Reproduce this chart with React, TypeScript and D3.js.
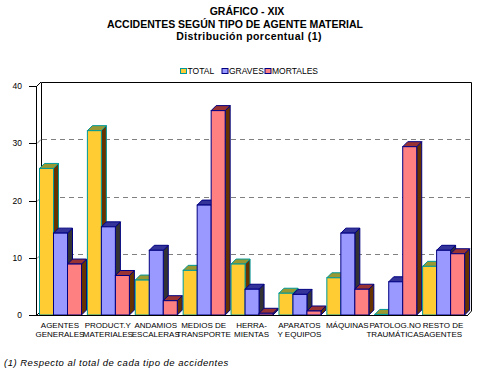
import React from "react";
import * as d3 from "d3";

const categories = [
  ["AGENTES", "GENERALES"],
  ["PRODUCT.Y", "MATERIALES"],
  ["ANDAMIOS", "ESCALERAS"],
  ["MEDIOS DE", "TRANSPORTE"],
  ["HERRA-", "MIENTAS"],
  ["APARATOS", "Y EQUIPOS"],
  ["MÁQUINAS", ""],
  ["PATOLOG.NO", "TRAUMÁTICAS"],
  ["RESTO DE", "AGENTES"],
];
const seriesNames = ["TOTAL", "GRAVES", "MORTALES"];
const totalValues = [25.6, 32.2, 6.1, 7.8, 8.9, 3.8, 6.5, 0.1, 8.5];
const gravesValues = [14.3, 15.4, 11.3, 19.2, 4.5, 3.6, 14.3, 5.8, 11.3];
const mortalesValues = [8.9, 6.9, 2.5, 35.7, 0.3, 0.7, 4.5, 29.4, 10.7];
const yTicks = [0, 10, 20, 30, 40];
const gridTicks = [10, 20, 30];

const seriesValues = [totalValues, gravesValues, mortalesValues];
const seriesStyle = [
  { front: "#FFCC33", top: "#999933", side: "#663300", stroke: "#009999" },
  { front: "#9999FF", top: "#333399", side: "#333333", stroke: "#000080" },
  { front: "#FF8080", top: "#993333", side: "#663300", stroke: "#000080" },
];

const FONT = "'Liberation Sans', Arial, sans-serif";

export default function App() {
  const W = 478, H = 372;
  const x0 = 37, x1 = 468, yBottom = 315, yTop = 86;
  const wdx = 4, wdy = -4; // wall depth
  const bdx = 5, bdy = -5; // bar depth
  const keys = categories.map((c) => c.join(" "));
  const x = d3.scaleBand<string>().domain(keys).range([x0, x1]).paddingInner(0).paddingOuter(0);
  const y = d3.scaleLinear().domain([0, 40]).range([yBottom, yTop]);
  const barW = 14;
  const barOff = 2.5;

  const bars: JSX.Element[] = [];
  keys.forEach((k, i) => {
    seriesValues.forEach((vals, j) => {
      const v = vals[i];
      const st = seriesStyle[j];
      const bx = (x(k) as number) + barOff + j * barW;
      const by = y(v);
      const bw = barW;
      const fb = yBottom;
      const top = `M${bx},${by} L${bx + bdx},${by + bdy} L${bx + bw + bdx},${by + bdy} L${bx + bw},${by} Z`;
      const side = `M${bx + bw},${by} L${bx + bw + bdx},${by + bdy} L${bx + bw + bdx},${fb + bdy} L${bx + bw},${fb} Z`;
      bars.push(
        <g key={`b${i}-${j}`}>
          <path d={side} fill={st.side} stroke={st.stroke} strokeWidth={1} strokeLinejoin="miter" />
          <path d={top} fill={st.top} stroke={st.stroke} strokeWidth={1} />
          {fb - by > 0.5 && (
            <rect x={bx} y={by} width={bw} height={fb - by} fill={st.front} stroke={st.stroke} strokeWidth={1} />
          )}
        </g>
      );
    });
  });

  const legendItems = [
    { sx: 180, tx: 187.5 },
    { sx: 221.5, tx: 229 },
    { sx: 264.5, tx: 272 },
  ];

  return (
    <svg width={W} height={H} style={{ display: "block", position: "absolute", left: 0, top: 0, background: "#fff" }} fontFamily={FONT}>
      <rect x={0} y={0} width={W} height={H} fill="#fff" />
      {/* Titles */}
      <text x={247} y={15} textAnchor="middle" fontSize={10.5} fontWeight="bold">GRÁFICO - XIX</text>
      <text x={235} y={28} textAnchor="middle" fontSize={10.5} fontWeight="bold">ACCIDENTES SEGÚN TIPO DE AGENTE MATERIAL</text>
      <text x={249} y={39.5} textAnchor="middle" fontSize={10.5} fontWeight="bold" letterSpacing={0.45}>Distribución porcentual (1)</text>

      {/* Legend */}
      {seriesNames.map((n, j) => (
        <g key={n}>
          <rect x={legendItems[j].sx + 0.5} y={68.5} width={6} height={5} fill={seriesStyle[j].front} stroke={seriesStyle[j].stroke} strokeWidth={1} />
          <text x={legendItems[j].tx} y={74} fontSize={8.5}>{n}</text>
        </g>
      ))}

      {/* Walls */}
      <path
        d={`M${x0 + wdx + 0.5},${yBottom + wdy} L${x0 + wdx + 0.5},${yTop + wdy + 0.5} L${x1 + wdx - 0.5},${yTop + wdy + 0.5} L${x1 + wdx - 0.5},${yBottom + wdy} L${x1},${yBottom}`}
        fill="none" stroke="#000" strokeWidth={1}
      />
      <line x1={x0} y1={y(40)} x2={x0 + wdx} y2={y(40) + wdy} stroke="#000" strokeWidth={1} />
      <line x1={x0} y1={yBottom} x2={x0 + wdx} y2={yBottom + wdy} stroke="#000" strokeWidth={1} />
      {gridTicks.map((t) => (
        <g key={`g${t}`}>
          <line x1={x0} y1={Math.round(y(t)) + 0.5} x2={x0 + wdx} y2={Math.round(y(t)) + 0.5 + wdy} stroke="#808080" strokeWidth={1} />
          <line x1={x0 + wdx + 1} y1={Math.round(y(t)) + 0.5 + wdy} x2={x1 + wdx - 1} y2={Math.round(y(t)) + 0.5 + wdy} stroke="#808080" strokeWidth={1} strokeDasharray="5,4" />
        </g>
      ))}

      {/* Bars */}
      {bars}

      {/* Floor front edge and y axis */}
      <line x1={x0} y1={yBottom + 0.5} x2={x1} y2={yBottom + 0.5} stroke="#000" strokeWidth={1} />
      <line x1={x0 - 0.5} y1={y(40)} x2={x0 - 0.5} y2={yBottom + 1} stroke="#000" strokeWidth={1} />
      {yTicks.map((t) => (
        <g key={`t${t}`}>
          <line x1={29} y1={Math.round(y(t)) + 0.5} x2={x0} y2={Math.round(y(t)) + 0.5} stroke="#000" strokeWidth={1} />
          <text x={22} y={y(t) + 3} textAnchor="end" fontSize={8.5}>{t}</text>
        </g>
      ))}

      {/* Category labels */}
      {categories.map((c, i) => {
        const cx = (x(keys[i]) as number) + x.bandwidth() / 2 - 1;
        return (
          <g key={`c${i}`}>
            <text x={cx} y={327.5} textAnchor="middle" fontSize={8}>{c[0]}</text>
            <text x={cx} y={336.5} textAnchor="middle" fontSize={8}>{c[1]}</text>
          </g>
        );
      })}

      {/* Footnote */}
      <text x={4} y={366} fontSize={9.5} fontStyle="italic" letterSpacing={0.5}>(1) Respecto al total de cada tipo de accidentes</text>
    </svg>
  );
}
